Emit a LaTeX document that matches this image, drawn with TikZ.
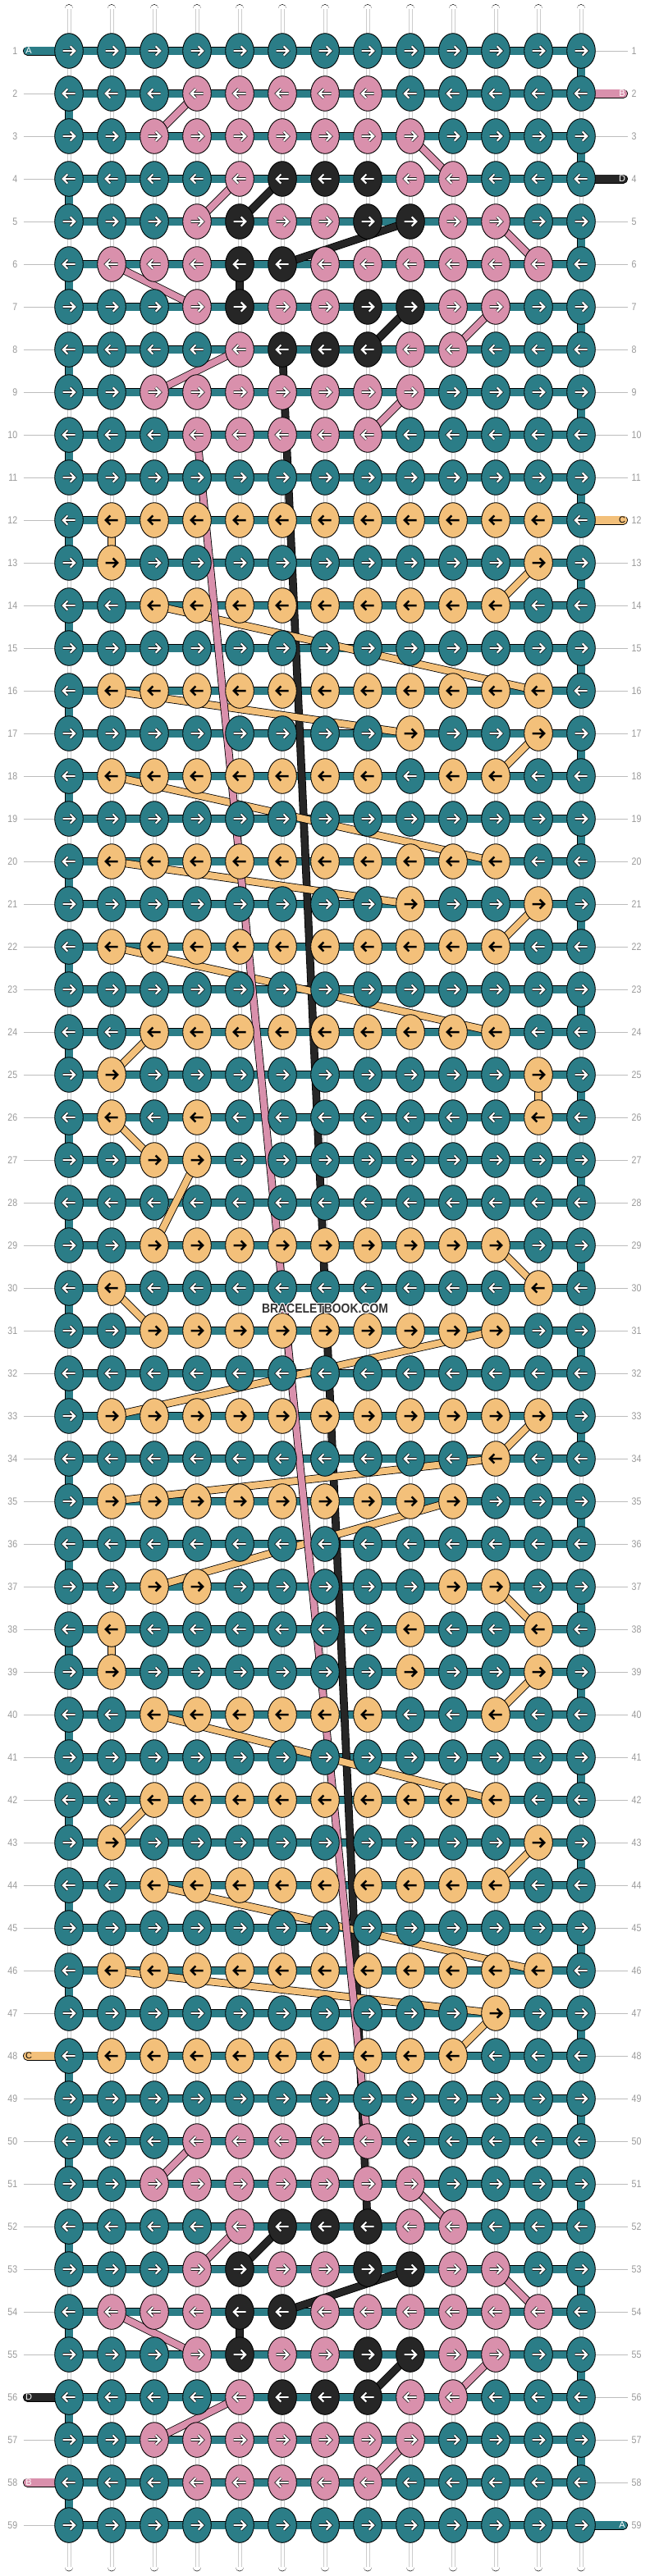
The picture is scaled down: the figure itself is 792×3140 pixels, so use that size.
\documentclass[tikz,border=0pt]{standalone}
\usepackage{fontspec}
\setmainfont{Liberation Sans}
\usetikzlibrary{shapes.geometric,calc}
\definecolor{cT}{HTML}{2B7D87}
\definecolor{cP}{HTML}{D990AC}
\definecolor{cO}{HTML}{F3C07A}
\definecolor{cK}{HTML}{262626}
\definecolor{lblgray}{HTML}{9A9A9A}
\definecolor{linegray}{HTML}{BDBDBD}
\pgfdeclarelayer{bg}
\pgfdeclarelayer{str}
\pgfsetlayers{bg,str,main}
\makeatletter
\newcount\kcol
\newcommand\drawknot[3]{%
  \pgfmathsetmacro\kx{84+52*(#2-1)}%
  \pgfmathsetmacro\ky{62+52*(#1-1)}%
  \ifodd#1\relax\def\kd{1}\else\def\kd{-1}\fi
  \node[knot,fill=c#3] (k-#1-#2) at (\kx,\ky) {};
  \if#3O%
    \draw[shift={(\kx,\ky)},xscale=\kd,arrO] (-7.5,0)--(6.4,0) (1.7,-5.5)--(7.2,0)--(1.7,5.5);
  \else
    \draw[shift={(\kx,\ky)},xscale=\kd,arrB] (-7.5,0)--(6.4,0) (1.7,-5.5)--(7.2,0)--(1.7,5.5);
    \draw[shift={(\kx,\ky)},xscale=\kd,arrW] (-7.5,0)--(6.4,0) (1.7,-5.5)--(7.2,0)--(1.7,5.5);
  \fi
}
\newcommand\drawrow[2]{\kcol=0 \@tfor\kch:=#2\do{\advance\kcol by 1 \edef\tmp{\noexpand\drawknot{#1}{\the\kcol}{\kch}}\tmp}}
\makeatother
\tikzset{
  knot/.style={ellipse, minimum width=34.6pt, minimum height=42.6pt, inner sep=0pt, draw=black, line width=0.9pt},
  arrB/.style={draw=black, line width=3.6pt, line join=miter},
  arrW/.style={draw=white, line width=2.2pt, line join=miter},
  arrO/.style={draw=black, line width=2.5pt, line join=miter},
  tbar/.style={draw=black, line width=0.8pt, double=cT, double distance=9pt},
  seg/.style={draw=black, line width=0.8pt, double distance=8pt},
  wstr/.style={draw=black, line width=0.7pt, double=white, double distance=9.4pt, line cap=round},
  stub/.style={draw=black, line width=0.8pt, double distance=9.4pt, line cap=round},
  stubtxt/.style={font=\fontsize{11}{11}\selectfont, inner sep=0pt},
  lbl/.style={text=lblgray, font=\fontsize{12.5}{13}\selectfont, inner sep=0pt},
  lblline/.style={draw=linegray, line width=1pt},
  wm/.style={font=\bfseries\fontsize{16}{16}\selectfont, inner sep=0pt}
}
\begin{document}
\begin{tikzpicture}[x=1pt,y=-1pt]
\useasboundingbox (0,0) rectangle (792,3140);
\drawrow{1}{TTTTTTTTTTTTT}
\drawrow{2}{TTTPPPPPTTTTT}
\drawrow{3}{TTPPPPPPPTTTT}
\drawrow{4}{TTTTPKKKPPTTT}
\drawrow{5}{TTTPKPPKKPPTT}
\drawrow{6}{TPPPKKPPPPPPT}
\drawrow{7}{TTTPKPPKKPPTT}
\drawrow{8}{TTTTPKKKPPTTT}
\drawrow{9}{TTPPPPPPPTTTT}
\drawrow{10}{TTTPPPPPTTTTT}
\drawrow{11}{TTTTTTTTTTTTT}
\drawrow{12}{TOOOOOOOOOOOT}
\drawrow{13}{TOTTTTTTTTTOT}
\drawrow{14}{TTOOOOOOOOOTT}
\drawrow{15}{TTTTTTTTTTTTT}
\drawrow{16}{TOOOOOOOOOOOT}
\drawrow{17}{TTTTTTTTOTTOT}
\drawrow{18}{TOOOOOOOTOOTT}
\drawrow{19}{TTTTTTTTTTTTT}
\drawrow{20}{TOOOOOOOOOOTT}
\drawrow{21}{TTTTTTTTOTTOT}
\drawrow{22}{TOOOOOOOOOOTT}
\drawrow{23}{TTTTTTTTTTTTT}
\drawrow{24}{TTOOOOOOOOOTT}
\drawrow{25}{TOTTTTTTTTTOT}
\drawrow{26}{TOTOTTTTTTTOT}
\drawrow{27}{TTOOTTTTTTTTT}
\drawrow{28}{TTTTTTTTTTTTT}
\drawrow{29}{TTOOOOOOOOOTT}
\drawrow{30}{TOTTTTTTTTTOT}
\drawrow{31}{TTOOOOOOOOOTT}
\drawrow{32}{TTTTTTTTTTTTT}
\drawrow{33}{TOOOOOOOOOOOT}
\drawrow{34}{TTTTTTTTTTOTT}
\drawrow{35}{TOOOOOOOOOTTT}
\drawrow{36}{TTTTTTTTTTTTT}
\drawrow{37}{TTOOTTTTTOOTT}
\drawrow{38}{TOTTTTTTOTTOT}
\drawrow{39}{TOTTTTTTOTTOT}
\drawrow{40}{TTOOOOOOTTOTT}
\drawrow{41}{TTTTTTTTTTTTT}
\drawrow{42}{TTOOOOOOOOOTT}
\drawrow{43}{TOTTTTTTTTTOT}
\drawrow{44}{TTOOOOOOOOOTT}
\drawrow{45}{TTTTTTTTTTTTT}
\drawrow{46}{TOOOOOOOOOOOT}
\drawrow{47}{TTTTTTTTTTOTT}
\drawrow{48}{TOOOOOOOOOTTT}
\drawrow{49}{TTTTTTTTTTTTT}
\drawrow{50}{TTTPPPPPTTTTT}
\drawrow{51}{TTPPPPPPPTTTT}
\drawrow{52}{TTTTPKKKPPTTT}
\drawrow{53}{TTTPKPPKKPPTT}
\drawrow{54}{TPPPKKPPPPPPT}
\drawrow{55}{TTTPKPPKKPPTT}
\drawrow{56}{TTTTPKKKPPTTT}
\drawrow{57}{TTPPPPPPPTTTT}
\drawrow{58}{TTTPPPPPTTTTT}
\drawrow{59}{TTTTTTTTTTTTT}
\begin{pgfonlayer}{bg}
  \fill[white] (0,0) rectangle (792,3140);
  % vertical white strings
  \foreach \cc in {1,...,13}{
    \draw[wstr] ($(k-1-\cc.center)+(0,-51.5)$) -- ($(k-59-\cc.center)+(0,51)$);
    \draw[gray!40, line width=0.5pt] ($(k-1-\cc.center)+(-2.2,-51)$) -- ($(k-59-\cc.center)+(-2.2,51)$);
    \draw[gray!40, line width=0.5pt] ($(k-1-\cc.center)+(2.2,-51)$) -- ($(k-59-\cc.center)+(2.2,51)$);
  }
  % row labels and guide lines
  \foreach \rr in {1,...,59}{
    \node[lbl, anchor=east] at ($(k-\rr-1.center)+(-62.5,0)$) {\scalebox{0.85}[1]{\rr}};
    \node[lbl, anchor=west] at ($(k-\rr-13.center)+(61.5,0)$) {\scalebox{0.85}[1]{\rr}};
    \draw[lblline] ($(k-\rr-1.center)+(-55.5,0)$) -- ($(k-\rr-1.center)+(-17,0)$);
    \draw[lblline] ($(k-\rr-13.center)+(17,0)$) -- ($(k-\rr-13.center)+(56.5,0)$);
  }
  % string ends
  \draw[stub, double=cT] ($(k-1-1.center)+(-50.5,0)$) -- (k-1-1.center);
  \draw[stub, double=cP] (k-2-13.center) -- ++(51.5,0);
  \draw[stub, double=cK] (k-4-13.center) -- ++(51.5,0);
  \draw[stub, double=cO] (k-12-13.center) -- ++(51.5,0);
  \draw[stub, double=cO] ($(k-48-1.center)+(-50.5,0)$) -- (k-48-1.center);
  \draw[stub, double=cK] ($(k-56-1.center)+(-50.5,0)$) -- (k-56-1.center);
  \draw[stub, double=cP] ($(k-58-1.center)+(-50.5,0)$) -- (k-58-1.center);
  \draw[stub, double=cT] (k-59-13.center) -- ++(51.5,0);
  \node[stubtxt, text=white] at ($(k-1-1.center)+(-49,0)$) {A};
  \node[stubtxt, text=white] at ($(k-2-13.center)+(50,0)$) {B};
  \node[stubtxt, text=white] at ($(k-4-13.center)+(50,0)$) {D};
  \node[stubtxt, text=black] at ($(k-12-13.center)+(50,0)$) {C};
  \node[stubtxt, text=black] at ($(k-48-1.center)+(-49,0)$) {C};
  \node[stubtxt, text=white] at ($(k-56-1.center)+(-49,0)$) {D};
  \node[stubtxt, text=white] at ($(k-58-1.center)+(-49,0)$) {B};
  \node[stubtxt, text=white] at ($(k-59-13.center)+(50,0)$) {A};
  % background (teal) string
  \foreach \rr in {1,...,59}
    \draw[tbar] (k-\rr-1.center) -- (k-\rr-13.center);
  \foreach \rr in {1,3,...,57}{
    \pgfmathtruncatemacro\rn{\rr+1}
    \draw[tbar] (k-\rr-13.center) -- (k-\rn-13.center);
  }
  \foreach \rr in {2,4,...,58}{
    \pgfmathtruncatemacro\rn{\rr+1}
    \draw[tbar] (k-\rr-1.center) -- (k-\rn-1.center);
  }
\end{pgfonlayer}
\begin{pgfonlayer}{str}
  \foreach \ra/\ca/\rb/\cb in {4/6/5/5, 5/9/6/6, 6/5/7/5, 7/9/8/8, 8/6/52/8, 52/6/53/5, 53/9/54/6, 54/5/55/5, 55/9/56/8}
    \draw[seg, double=cK] (k-\ra-\ca.center) -- (k-\rb-\cb.center);
  \foreach \ra/\ca/\rb/\cb in {12/2/13/2, 13/12/14/11, 14/3/16/12, 16/2/17/9, 17/12/18/11, 18/2/20/11, 20/2/21/9, 21/12/22/11, 22/2/24/11, 24/3/25/2, 25/12/26/12, 26/2/27/3, 27/4/29/3, 29/11/30/12, 30/2/31/3, 31/11/33/2, 33/12/34/11, 34/11/35/2, 35/10/37/3, 37/11/38/12, 38/2/39/2, 39/12/40/11, 40/3/42/11, 42/3/43/2, 43/12/44/11, 44/3/46/12, 46/2/47/11, 47/11/48/10}
    \draw[seg, double=cO] (k-\ra-\ca.center) -- (k-\rb-\cb.center);
  \foreach \ra/\ca/\rb/\cb in {2/4/3/3, 3/9/4/10, 4/5/5/4, 5/11/6/12, 6/2/7/4, 7/11/8/10, 8/5/9/3, 9/9/10/8, 10/4/50/8, 50/4/51/3, 51/9/52/10, 52/5/53/4, 53/11/54/12, 54/2/55/4, 55/11/56/10, 56/5/57/3, 57/9/58/8}
    \draw[seg, double=cP] (k-\ra-\ca.center) -- (k-\rb-\cb.center);
\end{pgfonlayer}
\foreach \dx/\dy in {-1/0,1/0,0/-1,0/1,-0.8/-0.8,0.8/0.8,-0.8/0.8,0.8/-0.8}
  \node[wm, text=white] at (396+\dx,1595+\dy) {\scalebox{0.87}[1]{BRACELETBOOK.COM}};
\node[wm, text=black!80] (wmark) at (396,1595) {\scalebox{0.87}[1]{BRACELETBOOK.COM}};
\end{tikzpicture}
\end{document}
